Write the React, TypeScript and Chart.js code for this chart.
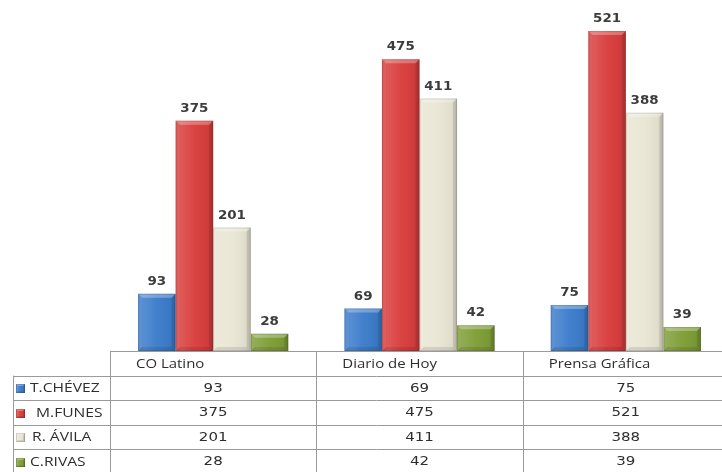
import React, { useEffect, useRef } from "react";
import { Chart, registerables } from "chart.js";

Chart.register(...registerables);

const categories = ["CO Latino", "Diario de Hoy", "Prensa Gráfica"];
const seriesNames = ["T.CHÉVEZ", "M.FUNES", "R. ÁVILA", "C.RIVAS"];
const tChevez = [93, 69, 75];
const mFunes = [375, 475, 521];
const rAvila = [201, 411, 388];
const cRivas = [28, 42, 39];
const seriesValues = [tChevez, mFunes, rAvila, cRivas];
const seriesColors = ["#3C7CCB", "#D83E3D", "#EAE6D4", "#7E9E36"];
const labelIndent = [30, 36, 32, 30];

const LINE = "#9A9A9A";
const TEXT = "#2E2E2E";

function drawText(
  ctx: CanvasRenderingContext2D,
  s: string,
  x: number,
  y: number,
  align: CanvasTextAlign,
  font: string,
  sx: number,
  color: string
) {
  ctx.save();
  ctx.font = font;
  ctx.fillStyle = color;
  ctx.textBaseline = "middle";
  ctx.textAlign = align;
  ctx.translate(x, y);
  ctx.scale(sx, 1);
  ctx.fillText(s, 0, 0);
  ctx.restore();
}

function bevel(ctx: CanvasRenderingContext2D, x0: number, y0: number, x1: number, y1: number, b: number) {
  const w = x1 - x0;
  const h = y1 - y0;
  if (w <= 0 || h <= 0) return;
  const bb = Math.min(b, h / 2, w / 2);
  ctx.save();
  const g = ctx.createLinearGradient(x0, 0, x1, 0);
  g.addColorStop(0, "rgba(255,255,255,0.06)");
  g.addColorStop(0.15, "rgba(255,255,255,0.14)");
  g.addColorStop(0.5, "rgba(255,255,255,0.03)");
  g.addColorStop(0.85, "rgba(0,0,0,0.04)");
  g.addColorStop(1, "rgba(0,0,0,0.14)");
  ctx.fillStyle = g;
  ctx.fillRect(x0, y0, w, h);
  const poly = (pts: number[][], c: string) => {
    ctx.beginPath();
    ctx.moveTo(pts[0][0], pts[0][1]);
    for (let i = 1; i < pts.length; i++) ctx.lineTo(pts[i][0], pts[i][1]);
    ctx.closePath();
    ctx.fillStyle = c;
    ctx.fill();
  };
  poly([[x0, y0], [x1, y0], [x1 - bb, y0 + bb], [x0 + bb, y0 + bb]], "rgba(255,255,255,0.28)");
  poly([[x0, y0], [x0 + bb, y0 + bb], [x0 + bb, y1 - bb], [x0, y1]], "rgba(255,255,255,0.08)");
  poly([[x1, y0], [x1, y1], [x1 - bb, y1 - bb], [x1 - bb, y0 + bb]], "rgba(0,0,0,0.09)");
  poly([[x0, y1], [x0 + bb, y1 - bb], [x1 - bb, y1 - bb], [x1, y1]], "rgba(0,0,0,0.1)");
  ctx.strokeStyle = "rgba(0,0,0,0.12)";
  ctx.lineWidth = 1;
  ctx.strokeRect(x0 + 0.5, y0 + 0.5, w - 1, h - 1);
  ctx.restore();
}

const decorPlugin = {
  id: "decor",
  afterDatasetsDraw(chart: any) {
    const ctx: CanvasRenderingContext2D = chart.ctx;
    chart.data.datasets.forEach((ds: any, di: number) => {
      const meta = chart.getDatasetMeta(di);
      meta.data.forEach((el: any, i: number) => {
        const x0 = el.x - el.width / 2;
        const x1 = el.x + el.width / 2;
        bevel(ctx, x0, el.y, x1, el.base, 4);
        drawText(ctx, String(ds.data[i]), el.x, el.y - 12, "center", '600 12px "DejaVu Sans"', 1.12, "#3C3C3C");
      });
    });
  },
  afterDraw(chart: any) {
    const ctx: CanvasRenderingContext2D = chart.ctx;
    const xs = chart.scales.x;
    const n = categories.length;
    const cw = xs.width / n;
    const top = chart.chartArea.bottom;
    const rowH = 24.6;
    const rows = seriesNames.length + 1;
    const left = xs.left;
    const right = chart.width;
    const legendLeft = 13;
    ctx.save();
    ctx.strokeStyle = LINE;
    ctx.lineWidth = 1;
    ctx.beginPath();
    ctx.moveTo(left, Math.round(top) + 0.5);
    ctx.lineTo(right, Math.round(top) + 0.5);
    for (let r = 1; r <= rows; r++) {
      const y = Math.round(top + r * rowH) + 0.5;
      ctx.moveTo(legendLeft, y);
      ctx.lineTo(right, y);
    }
    const bottom = top + rows * rowH;
    for (let c = 0; c <= n; c++) {
      const x = Math.round(left + c * cw) + 0.5;
      ctx.moveTo(x, top);
      ctx.lineTo(x, bottom);
    }
    ctx.moveTo(legendLeft + 0.5, top + rowH);
    ctx.lineTo(legendLeft + 0.5, bottom);
    ctx.stroke();
    ctx.restore();

    categories.forEach((cat, c) => {
      drawText(ctx, cat, left + c * cw + 26, top + rowH / 2 + 0.5, "left", '13px "Open Sans"', 1.15, TEXT);
    });
    seriesNames.forEach((name, r) => {
      const yc = top + (r + 1) * rowH + rowH / 2 + 0.5;
      const mx = 16, my = Math.round(yc - 4.5), ms = 9;
      ctx.save();
      ctx.fillStyle = seriesColors[r];
      ctx.fillRect(mx, my, ms, ms);
      ctx.restore();
      bevel(ctx, mx, my, mx + ms, my + ms, 2);
      drawText(ctx, name, labelIndent[r], yc, "left", '13px "Open Sans"', 1.2, TEXT);
      seriesValues[r].forEach((v, c) => {
        const xc = left + c * cw + cw / 2;
        drawText(ctx, String(v), xc, yc, "center", '12px "DejaVu Sans"', 1.25, TEXT);
      });
    });
  },
};

export default function App() {
  const ref = useRef<HTMLCanvasElement | null>(null);
  useEffect(() => {
    if (!ref.current) return;
    const chart = new Chart(ref.current, {
      type: "bar",
      data: {
        labels: categories,
        datasets: seriesNames.map((name, i) => ({
          label: name,
          data: seriesValues[i],
          backgroundColor: seriesColors[i],
          borderWidth: 0,
          categoryPercentage: 0.728,
          barPercentage: 1,
        })),
      },
      options: {
        responsive: false,
        animation: false,
        layout: { padding: { left: 110, right: 11, top: 7, bottom: 121 } },
        plugins: { legend: { display: false }, tooltip: { enabled: false } },
        scales: {
          x: { display: false, offset: true, grid: { display: false } },
          y: { display: false, min: 0, max: 560 },
        },
      },
      plugins: [decorPlugin],
    });
    return () => chart.destroy();
  }, []);
  return (
    <div
      style={{
        position: "fixed",
        left: 0,
        top: 0,
        width: 722,
        height: 472,
        overflow: "hidden",
        background: "#ffffff",
      }}
    >
      <canvas ref={ref} width={740} height={472} style={{ display: "block", width: 740, height: 472 }} />
    </div>
  );
}
